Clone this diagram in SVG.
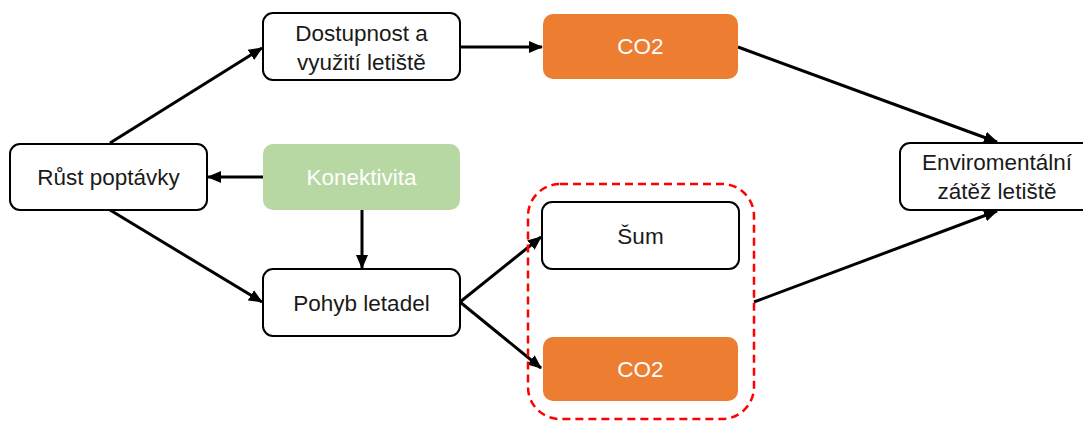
<svg xmlns="http://www.w3.org/2000/svg" width="1083" height="421" viewBox="0 0 1083 421">
<style>
.box{fill:#fff;stroke:#000;stroke-width:2}
.co2{fill:#ED7D31}
.kon{fill:#B7D7A3}
text{font-family:"Liberation Sans",Arial,sans-serif;font-size:22.5px;text-anchor:middle;fill:#1a1a1a}
.w{fill:#fff}
.con{stroke:#000;stroke-width:3;fill:none;marker-end:url(#ah)}
</style>
<defs>
<marker id="ah" markerUnits="userSpaceOnUse" markerWidth="14" markerHeight="12" refX="13" refY="6" orient="auto">
<path d="M0,0 L14,6 L0,12 Z" fill="#000"/>
</marker>
</defs>
<rect width="1083" height="421" fill="#fff"/>
<g id="connectors">
<line class="con" x1="110" y1="143" x2="262" y2="48"/>
<line class="con" x1="263" y1="177" x2="208" y2="177"/>
<line class="con" x1="460" y1="47" x2="542" y2="47"/>
<line class="con" x1="738" y1="47" x2="997" y2="142"/>
<line class="con" x1="362" y1="210" x2="362" y2="268"/>
<line class="con" x1="110" y1="210" x2="262" y2="302"/>
<line class="con" x1="460" y1="302" x2="541" y2="237"/>
<line class="con" x1="460" y1="302" x2="541" y2="368"/>
<line class="con" x1="754" y1="302" x2="997" y2="211"/>
</g>
<g id="group-red">
<rect x="528" y="184" width="226" height="235" rx="32" fill="none" stroke="#FF0000" stroke-width="2.5" stroke-dasharray="8,5"/>
</g>
<g id="rust">
<rect class="box" x="10" y="144" width="197" height="66" rx="10"/>
<text x="108.5" y="185">Růst poptávky</text>
</g>
<g id="dostupnost">
<rect class="box" x="263" y="13" width="197" height="67" rx="10"/>
<text x="361.5" y="41">Dostupnost a</text>
<text x="361.5" y="70">využití letiště</text>
</g>
<g id="konektivita">
<rect class="kon" x="263" y="144" width="197" height="66" rx="10"/>
<text class="w" x="361.5" y="185">Konektivita</text>
</g>
<g id="co2-top">
<rect class="co2" x="543" y="14" width="195" height="65" rx="10"/>
<text class="w" x="640.5" y="54">CO2</text>
</g>
<g id="pohyb">
<rect class="box" x="263" y="269" width="197" height="67" rx="10"/>
<text x="361.5" y="311">Pohyb letadel</text>
</g>
<g id="sum">
<rect class="box" x="542" y="202" width="197" height="67" rx="10"/>
<text x="640.5" y="244">Šum</text>
</g>
<g id="co2-bottom">
<rect class="co2" x="543" y="337" width="195" height="64" rx="10"/>
<text class="w" x="640.5" y="377">CO2</text>
</g>
<g id="enviro">
<rect class="box" x="900" y="143" width="196" height="67" rx="10"/>
<text x="997" y="170">Enviromentální</text>
<text x="997" y="199">zátěž letiště</text>
</g>
</svg>
